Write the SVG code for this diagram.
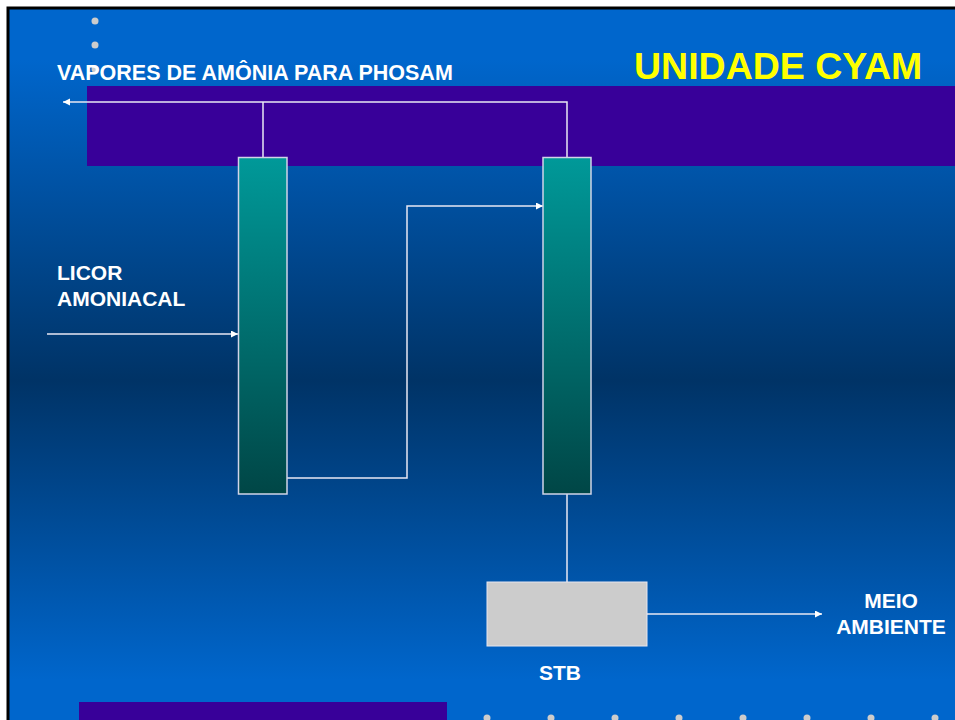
<svg xmlns="http://www.w3.org/2000/svg" width="955" height="720" viewBox="0 0 955 720">
  <style>
    .lbl { font-family: "Liberation Sans", Arial, sans-serif; font-weight: bold; fill: #FFFFFF; font-size: 21px; }
    .title { font-family: "Liberation Sans", Arial, sans-serif; font-weight: bold; fill: #FFFF00; font-size: 37.5px; }
    .col { fill: url(#colGrad); stroke: #D0D4E8; stroke-width: 1.5; }
    .conn { fill: none; stroke: #E8E8F4; stroke-width: 1.5; }
    .dot { fill: #CCCCCC; }
    .band { fill: #380099; }
  </style>
  <defs>
    <linearGradient id="bgGrad" gradientUnits="userSpaceOnUse" x1="0" y1="60" x2="0" y2="680">
      <stop offset="0" stop-color="#0066CC"/>
      <stop offset="0.516" stop-color="#003366"/>
      <stop offset="1" stop-color="#0066CC"/>
    </linearGradient>
    <linearGradient id="colGrad" x1="0" y1="0" x2="0" y2="1">
      <stop offset="0" stop-color="#009999"/>
      <stop offset="1" stop-color="#004646"/>
    </linearGradient>
    <marker id="arrow" markerWidth="8" markerHeight="8" refX="7" refY="3.5" orient="auto" markerUnits="userSpaceOnUse">
      <path d="M0,0 L7,3.5 L0,7 Z" fill="#FFFFFF"/>
    </marker>
  </defs>

  <rect x="0" y="0" width="955" height="720" fill="#FFFFFF"/>
  <rect x="8" y="8" width="960" height="730" fill="url(#bgGrad)" stroke="#000000" stroke-width="3"/>

  <!-- decorative bands and bullets -->
  <rect class="band" x="87" y="86" width="870" height="80"/>
  <rect class="band" x="79" y="702" width="368" height="20"/>
  <g id="bullets">
    <circle class="dot" cx="95" cy="21" r="3.5"/>
    <circle class="dot" cx="95" cy="45" r="3.5"/>
    <circle class="dot" cx="95" cy="69" r="3.5"/>
    <circle class="dot" cx="487" cy="718" r="3.5"/>
    <circle class="dot" cx="551" cy="718" r="3.5"/>
    <circle class="dot" cx="615" cy="718" r="3.5"/>
    <circle class="dot" cx="679" cy="718" r="3.5"/>
    <circle class="dot" cx="743" cy="718" r="3.5"/>
    <circle class="dot" cx="807" cy="718" r="3.5"/>
    <circle class="dot" cx="871" cy="718" r="3.5"/>
    <circle class="dot" cx="935" cy="718" r="3.5"/>
  </g>

  <g id="title">
    <text class="title" x="634" y="79">UNIDADE CYAM</text>
  </g>

  <g id="connectors">
    <path class="conn" d="M263,157 V102" />
    <path class="conn" d="M567,157 V102 H63" marker-end="url(#arrow)"/>
    <path class="conn" d="M47,334 H238" marker-end="url(#arrow)"/>
    <path class="conn" d="M287,478 H407 V206 H543" marker-end="url(#arrow)"/>
    <path class="conn" d="M567,494 V582"/>
    <path class="conn" d="M647,614 H822" marker-end="url(#arrow)"/>
  </g>

  <g id="column1">
    <rect class="col" x="238.5" y="157.5" width="48.5" height="336.5"/>
  </g>
  <g id="column2">
    <rect class="col" x="543" y="157.5" width="48" height="336.5"/>
  </g>
  <g id="stb">
    <rect x="487" y="582" width="160" height="64" fill="#CCCCCC" stroke="#E6E6F0" stroke-width="1"/>
    <text class="lbl" x="560" y="680" text-anchor="middle">STB</text>
  </g>

  <g id="label-vapores">
    <text class="lbl" x="57" y="80" style="font-size:21.5px">VAPORES DE AMÔNIA PARA PHOSAM</text>
  </g>
  <g id="label-licor">
    <text class="lbl" x="57" y="280">LICOR</text>
    <text class="lbl" x="57" y="306">AMONIACAL</text>
  </g>
  <g id="label-meio">
    <text class="lbl" x="891" y="608" text-anchor="middle">MEIO</text>
    <text class="lbl" x="891" y="634" text-anchor="middle">AMBIENTE</text>
  </g>
</svg>
